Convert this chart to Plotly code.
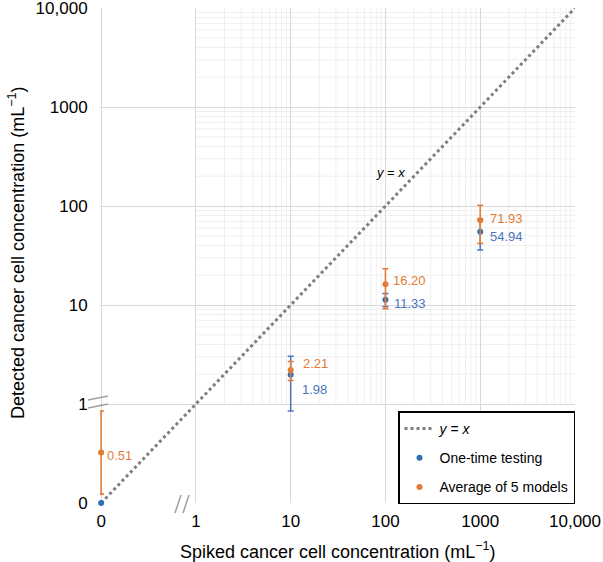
import math
import plotly.graph_objects as go

# ---------------- data ----------------
spiked = [0, 10, 100, 1000]
one_time = [0, 1.98, 11.33, 54.94]
one_time_err = [None, 1.05, 1.7, 19.0]
avg5 = [0.51, 2.21, 16.20, 71.93]
avg5_err = [0.42, 0.48, 7.0, 30.0]
one_time_labels = [None, "1.98", "11.33", "54.94"]
avg5_labels = ["0.51", "2.21", "16.20", "71.93"]
identity_line = [0, 10000]
tick_values = [0, 1, 10, 100, 1000, 10000]
tick_labels = ["0", "1", "10", "100", "1000", "10,000"]

# label offsets (px) - styling only
one_time_shift = [(0, 0), (9, -15), (7, -4), (8, -5)]
avg5_shift = [(4, -3), (10, 6), (6, 4), (8, 2)]

BLUE = "#2F6DB5"
BLUE_TXT = "#4A74C0"
ORANGE = "#E47B36"
FONT = "Liberation Sans, Arial, sans-serif"


def f(v):
    """broken scale: linear 0..1, log10 above 1"""
    if v is None:
        return None
    return v if v <= 1 else 1 + math.log10(v)


def err_parts(vals, errs):
    plus, minus = [], []
    for v, e in zip(vals, errs):
        if e is None:
            plus.append(None)
            minus.append(None)
        else:
            plus.append(f(v + e) - f(v))
            minus.append(f(v) - f(max(v - e, 0)))
    return plus, minus


xs = [f(v) for v in spiked]
fig = go.Figure()

fig.add_trace(go.Scatter(
    x=[f(v) for v in identity_line], y=[f(v) for v in identity_line],
    mode="lines", line=dict(color="#7F7F7F", width=3, dash="dot"),
    name="<i>y</i> = <i>x</i>", legendgroup="a", legendrank=1, cliponaxis=False))

p, m = err_parts(one_time, one_time_err)
fig.add_trace(go.Scatter(
    x=xs, y=[f(v) for v in one_time], mode="markers",
    marker=dict(color=BLUE, size=6),
    error_y=dict(type="data", symmetric=False, array=p, arrayminus=m,
                 color=BLUE_TXT, thickness=1.5, width=3),
    name="One-time testing", legendgroup="b", legendrank=2, cliponaxis=False))

p, m = err_parts(avg5, avg5_err)
fig.add_trace(go.Scatter(
    x=xs, y=[f(v) for v in avg5], mode="markers",
    marker=dict(color=ORANGE, size=6),
    error_y=dict(type="data", symmetric=False, array=p, arrayminus=m,
                 color=ORANGE, thickness=1.6, width=3),
    name="Average of 5 models", legendgroup="c", legendrank=3, cliponaxis=False))

annotations = []
for x, v, lab, (dx, dy) in zip(xs, one_time, one_time_labels, one_time_shift):
    if lab:
        annotations.append(dict(x=x, y=f(v), text=lab, showarrow=False,
                                xanchor="left", yanchor="middle", xshift=dx, yshift=dy,
                                font=dict(color=BLUE_TXT, size=13, family=FONT)))
for x, v, lab, (dx, dy) in zip(xs, avg5, avg5_labels, avg5_shift):
    annotations.append(dict(x=x, y=f(v), text=lab, showarrow=False,
                            xanchor="left", yanchor="middle", xshift=dx, yshift=dy,
                            font=dict(color=ORANGE, size=13, family=FONT)))
annotations.append(dict(x=3.05, y=3.34, text="<i>y</i> = <i>x</i>", showarrow=False,
                        font=dict(color="black", size=13, family=FONT)))

# plot-area pixel frame
L, R, T, B = 100, 575, 8, 503


def px(xp, yp):
    return (xp - L) / (R - L), (B - yp) / (B - T)


# axis titles
xt, yt = px(338, 550)
annotations.append(dict(x=xt, y=yt, xref="paper", yref="paper", showarrow=False,
                        xanchor="center", yanchor="middle",
                        text="Spiked cancer cell concentration (mL<sup>\u22121</sup>)",
                        font=dict(size=18, color="black", family=FONT)))
xt, yt = px(17, 253)
annotations.append(dict(x=xt, y=yt, xref="paper", yref="paper", showarrow=False,
                        xanchor="center", yanchor="middle", textangle=-90,
                        text="Detected cancer cell concentration (mL<sup>\u22121</sup>)",
                        font=dict(size=18, color="black", family=FONT)))

# minor grid (log decades only, above 1)
shapes = []
for d in range(4):
    for k in range(2, 10):
        pos = f(k * 10 ** d)
        shapes.append(dict(type="line", xref="x", yref="y", x0=pos, x1=pos, y0=1, y1=5,
                           line=dict(color="#EFEFEF", width=1), layer="below"))
        shapes.append(dict(type="line", xref="x", yref="y", y0=pos, y1=pos, x0=1, x1=5,
                           line=dict(color="#EFEFEF", width=1), layer="below"))

# axis-break marks (paper coordinates)
for seg in [((88, 400), (108, 396)), ((88, 408), (108, 404)),
            ((175, 513), (181, 495)), ((183, 513), (189, 495))]:
    (xa, ya), (xb, yb) = px(*seg[0]), px(*seg[1])
    shapes.append(dict(type="line", xref="paper", yref="paper", x0=xa, y0=ya, x1=xb, y1=yb,
                       line=dict(color="#A0A0A0", width=1.5)))

axis_common = dict(
    tickmode="array",
    tickvals=[f(v) for v in tick_values], ticktext=tick_labels,
    showgrid=True, gridcolor="#D9D9D9", gridwidth=1,
    zeroline=False, showline=False,
    ticks="outside", tickcolor="rgba(0,0,0,0)", layer="below traces",
    tickfont=dict(size=17, color="black", family=FONT), automargin=False,
    ticklabeloverflow="allow",
)

fig.update_layout(
    width=603, height=562,
    margin=dict(l=L, r=603 - R, t=T, b=562 - B),
    paper_bgcolor="white", plot_bgcolor="white",
    font=dict(family=FONT, color="black"),
    xaxis=dict(**axis_common, range=[-0.012, 5.0], ticklen=3),
    yaxis=dict(**axis_common, range=[0, 5.0], ticklen=8),
    legend=dict(x=1, xanchor="right", y=-0.003, yanchor="bottom",
                bgcolor="white", bordercolor="black", borderwidth=1.5,
                font=dict(size=14, color="black", family=FONT),
                tracegroupgap=8, traceorder="grouped"),
    showlegend=True,
    annotations=annotations,
    shapes=shapes,
)

fig.write_html("out.html", config={"displayModeBar": False},
               post_script="document.body.style.margin='0';document.body.style.overflow='hidden';")
